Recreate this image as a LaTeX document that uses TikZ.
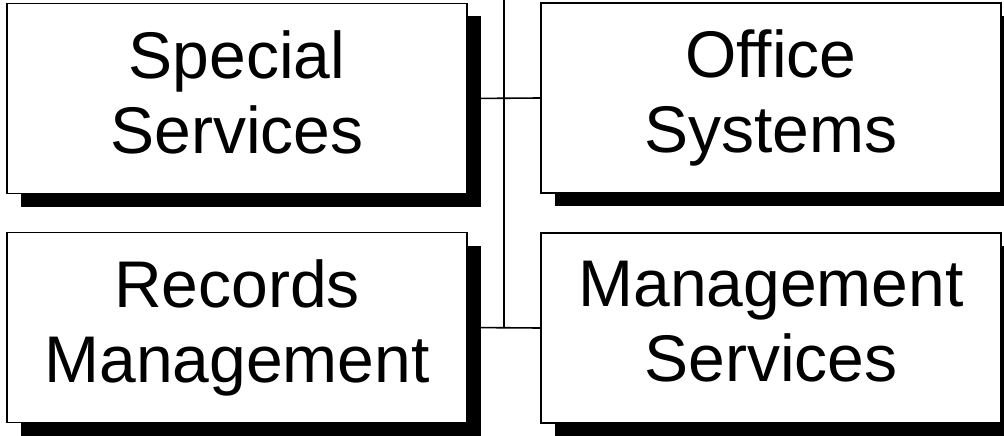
\documentclass[tikz,border=0pt]{standalone}
\usepackage{fontspec}
\setmainfont{Liberation Sans}
\usetikzlibrary{shadows}
\begin{document}
\begin{tikzpicture}[x=1pt,y=-1pt,
  orgbox/.style={draw=black, line width=1.8pt, fill=white,
    minimum width=460pt, minimum height=190pt, inner sep=0pt,
    align=center, font=\fontsize{66}{75}\selectfont,
    drop shadow={shadow xshift=14pt, shadow yshift=-13pt, fill=black, opacity=1}},
  link/.style={draw=black, line width=1.6pt}]
\useasboundingbox (0,0) rectangle (1004,436);
\coordinate (top) at (504,0);
\coordinate (jb) at (504,327);
\node[orgbox] (ss) at (237,98.5) {Special\\Services\vphantom{g}};
\node[orgbox] (os) at (771,98) {Office\\Systems};
\node[orgbox] (rm) at (237,327.5) {Records\\Management};
\node[orgbox] (ms) at (771,328) {Management\\Services\vphantom{g}};
\draw[link] (top) -- (jb);
\draw[link] (ss.east) -- (os.west);
\draw[link] (rm.east) -- (ms.west);
\end{tikzpicture}
\end{document}
